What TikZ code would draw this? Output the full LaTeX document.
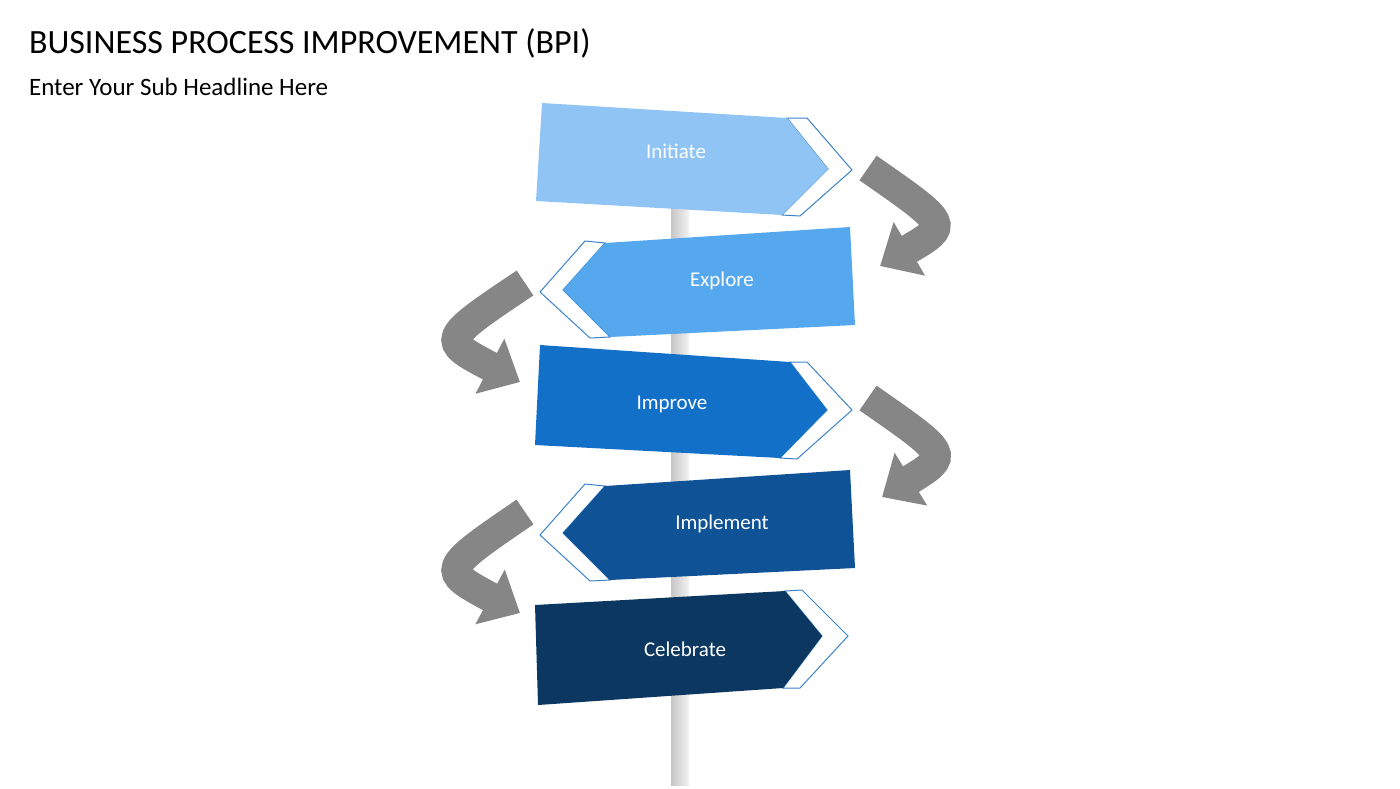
\documentclass[tikz,border=0pt]{standalone}
\usepackage{fontspec}
\setmainfont{Carlito}
\usetikzlibrary{arrows.meta}

\definecolor{cInit}{HTML}{90C4F5}
\definecolor{cExpl}{HTML}{55A8EE}
\definecolor{cImpr}{HTML}{1270C8}
\definecolor{cImpl}{HTML}{0F5296}
\definecolor{cCele}{HTML}{0B3760}
\definecolor{edgeblue}{HTML}{3C82C8}

\begin{document}
\begin{tikzpicture}[x=0.5pt,y=-0.5pt,
	chevron/.style={fill=white,draw=edgeblue,line width=0.5pt},
	label/.style={text=white,font=\fontsize{10.5}{12}\selectfont},
	turn/.style={draw=gray!95,line width=15pt,-{Triangle[length=17pt,width=30pt]}}]
	\useasboundingbox (0,0) rectangle (1400,788);
	\node[anchor=west,font=\fontsize{17}{20}\selectfont] (title) at (22,43) {BUSINESS PROCESS IMPROVEMENT (BPI)};
	\node[anchor=west,font=\fontsize{12.5}{15}\selectfont] (sub) at (22,87) {Enter Your Sub Headline Here};
	% pole
	\shade[left color=gray!45,right color=gray!10] (671,200) rectangle (689,785);
	% Initiate
	\filldraw[chevron] (787,118) -- (807,118) -- (852,170) -- (800,216) -- (782,215) -- (828,169) -- cycle;
	\fill[cInit] (542,103) -- (787,118) -- (828,169) -- (782,215) -- (536,201) -- cycle;
	\node[label] (initiate) at (676,151) {Initiate};
	% Explore
	\filldraw[chevron] (605,243) -- (585,241) -- (540,292) -- (590,338) -- (610,337) -- (563,290) -- cycle;
	\fill[cExpl] (850,227) -- (855,325) -- (610,337) -- (563,290) -- (605,243) -- cycle;
	\node[label] (explore) at (722,281) {Explore};
	% Improve
	\filldraw[chevron] (790,362) -- (807,362) -- (852,410) -- (797,459) -- (780,458) -- (827,410) -- cycle;
	\fill[cImpr] (540,345) -- (790,362) -- (827,410) -- (780,458) -- (535,445) -- cycle;
	\node[label] (improve) at (672,404) {Improve};
	% Implement
	\filldraw[chevron] (605,486) -- (585,484) -- (540,535) -- (590,581) -- (610,580) -- (563,533) -- cycle;
	\fill[cImpl] (850,470) -- (855,568) -- (610,580) -- (563,533) -- (605,486) -- cycle;
	\node[label] (implement) at (722,524) {Implement};
	% Celebrate
	\filldraw[chevron] (785,591) -- (802,590) -- (848,636) -- (800,688) -- (783,688) -- (822,636) -- cycle;
	\fill[cCele] (535,605) -- (785,591) -- (822,636) -- (783,688) -- (538,705) -- cycle;
	\node[label] (celebrate) at (685,649) {Celebrate};
	% turning arrows
	\coordinate (t1a) at (868,168); \coordinate (t1b) at (880,266);
	\coordinate (t2a) at (525,283); \coordinate (t2b) at (520,382);
	\coordinate (t3a) at (868,398); \coordinate (t3b) at (882,497);
	\coordinate (t4a) at (525,512); \coordinate (t4b) at (520,613);
	\draw[turn] (t1a) .. controls (950,225) .. (t1b);
	\draw[turn] (t2a) .. controls (440,340) .. (t2b);
	\draw[turn] (t3a) .. controls (950,455) .. (t3b);
	\draw[turn] (t4a) .. controls (440,570) .. (t4b);
\end{tikzpicture}
\end{document}
